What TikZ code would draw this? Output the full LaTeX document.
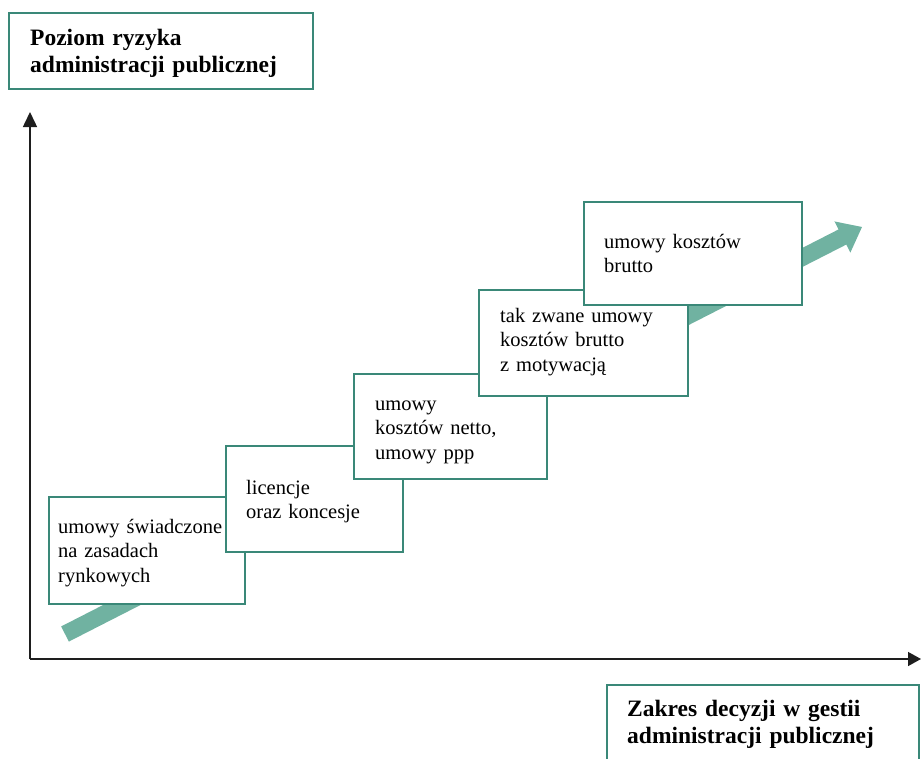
\documentclass[tikz,border=0pt]{standalone}
\usepackage{fontspec}
\setmainfont{Liberation Serif}
\usetikzlibrary{calc,arrows.meta}
\definecolor{frame}{RGB}{58,136,120}
\definecolor{bandcol}{RGB}{112,178,161}
\definecolor{axiscol}{RGB}{30,30,30}

\begin{document}
\begin{tikzpicture}[x=1pt,y=-1pt,
  stage/.style={draw=frame, line width=2pt, fill=white, inner sep=0pt, anchor=north west},
  stagetext/.style={font=\fontsize{20.5}{24.5}\selectfont, text width=210pt, align=left, inner sep=0pt, anchor=base west},
  headtext/.style={font=\bfseries\fontsize{23.5}{27}\selectfont, text width=290pt, align=left, inner sep=0pt, anchor=base west},
  axisline/.style={draw=axiscol, line width=1.5pt}
]
\clip (0,0) rectangle (921,758);

% axes
\coordinate (O) at (30,659);
\coordinate (Ytop) at (30,112);
\coordinate (Xend) at (921,659);
\draw[axisline, -{Triangle[width=14pt,length=15pt]}] (O) -- (Ytop);
\draw[axisline, -{Triangle[width=14pt,length=13pt]}] (O) -- (Xend);

% rising band with its head
\coordinate (bs) at (65,634);
\coordinate (be) at (862,227);
\coordinate (bh) at ($(be)!22pt!(bs)$);
\fill[bandcol] ($(bs)!8.5pt!90:(be)$) -- ($(bh)!8.5pt!90:(be)$) -- ($(bh)!17.5pt!90:(be)$)
  -- (be) -- ($(bh)!17.5pt!-90:(be)$) -- ($(bh)!8.5pt!-90:(be)$) -- ($(bs)!8.5pt!-90:(be)$) -- cycle;

% axis captions
\node[stage, minimum width=304pt, minimum height=76pt] (ybox) at (8,12) {};
\node[headtext] (ylab) at (30,45) {Poziom ryzyka\\administracji publicznej};
\node[stage, minimum width=312pt, minimum height=100pt] (xbox) at (606,684) {};
\node[headtext] (xlab) at (627,716) {Zakres decyzji w gestii\\administracji publicznej};

% stages
\node[stage, minimum width=196pt, minimum height=107pt] (b1) at (48,496) {};
\node[stagetext] (t1) at (58,533) {umowy świadczone\\na zasadach\\rynkowych};
\node[stage, minimum width=177pt, minimum height=106pt] (b2) at (225,445) {};
\node[stagetext] (t2) at (246,494) {licencje\\oraz koncesje};
\node[stage, minimum width=193pt, minimum height=105pt] (b3) at (353,373) {};
\node[stagetext] (t3) at (375,410) {umowy\\kosztów netto,\\umowy ppp};
\node[stage, minimum width=209pt, minimum height=106pt] (b4) at (478,289) {};
\node[stagetext] (t4) at (500,322) {tak zwane umowy\\kosztów brutto\\z motywacją};
\node[stage, minimum width=218pt, minimum height=103pt] (b5) at (583,201) {};
\node[stagetext] (t5) at (604,248) {umowy kosztów\\brutto};
\end{tikzpicture}
\end{document}
